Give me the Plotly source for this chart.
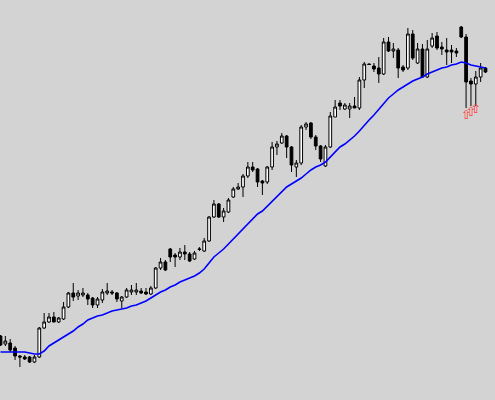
import plotly.graph_objects as go

opens = [64,56,57,52,44,43,43,38,43,72,
         78,83,78,81,93,107,104,105,105,102,
         95,100,107,108,107,99,103,108,108,109,
         108,106,112,132,138,151,145,143,148,146,
         141,150.5,149,159,183,196,183,188,203,211,
         213,224,233,231,219,218,233,253,257,264,
         253,233,237,273,277,263,254,234,253,283,
         297,291,291,294,292,320,336,334,332,326,
         358,349,350,333,332,366,337,351,323,354,
         364,353,350,350,349,373,363,319,316,323,
         332]
highs = [65,64,61,54,45,45,44,45,73,87,
         87,88,83,98,108,117,110,112,107,103,
         103,111,117,110,108,104,112,115,117,112,
         112,114,133,142,140,152,147,152,155,148,
         149,153,162,184,200,197,192,202,213,217,
         226,238,238,232,220,234,258,259,267,265,
         254,240,275,278,278,265,255,255,288,300,
         300,297,297,303,323,338,336.5,337,343,362,
         363,357,352,335,372,370,357,356,360,367,
         368,358,362,355,352,374,366,322,329,337,
         333]
lows = [54,54,48,40,33,40,37,37,42,71,
        77,78,77,80,92,99,100,103,95,92,
        92,97,105,105,98,92,102,105,105,106,
        105,105,111,130,129,138,133,140,140,138,
        140,149,148,158,182,182,178,187,202,210,
        203,222,228,213,205,216,230,245,256,242,
        228,223,235,270,261,250,238,233,252,283,
        290,290,282,292,290,312,335,328,317,325,
        348,342,322,328,330,340,336,322,322,352,
        350,345,335,337,343,362,292,294,294,318,
        327]
closes = [55,59,50,44,43,41,38,43,72,78,
          83,78,82,93,107,103,107,107,101,95,
          101,108,109,107,101,103,110,110,110,107,
          106,112,132,138,130,143,143,148,146,139,
          147,151,159,183,196,183,189,200,211,213,
          224,233,230,218,217,233,253,256,264,253,
          235,237,273,276,263,254,241,253,284,293,
          294,295,294,292,320,336,335.5,331,326,358,
          349,351,332,330,366,342,351,323,351,362,
          352,351,348,348,347,363,318,316,323,332,
          328]
ma = [48,48,48,48,48,48,47,46,46,49,
      54,57,60,63,66,69,73,76,80,82,
      84,85,87,89,90,91,92,94,95,97,
      99,102,105,108,110,113,115,118,120,122,
      124,127,131,137,143,147,151,156,161,166,
      172,177,182,186,189,194,199,203,208,213,
      216,219,222,226,230,233,235,238,243,248,
      253,256,260,264,269,275,280,285,291,297,
      302,306,310,313,316,319,321,323,326,328,
      330,332,333,335,336,338,337,335,334,333,
      332]
signal_idx = [96, 97, 98]
signal_val = [284.5, 287.5, 290.5]

idx = list(range(len(opens)))

fig = go.Figure()
fig.add_trace(go.Candlestick(
    x=idx, open=opens, high=highs, low=lows, close=closes,
    increasing=dict(line=dict(color="#000000", width=1), fillcolor="#ffffff"),
    decreasing=dict(line=dict(color="#000000", width=1), fillcolor="#000000"),
    whiskerwidth=0, showlegend=False, hoverinfo="skip"))
fig.add_trace(go.Scatter(
    x=idx, y=ma, mode="lines", line=dict(color="#0000ff", width=1.6),
    showlegend=False, hoverinfo="skip"))
fig.add_trace(go.Scatter(
    x=signal_idx, y=signal_val, mode="text", text=["⇧"] * len(signal_idx),
    textfont=dict(color="#ff3b3b", size=13, family="DejaVu Sans"),
    textposition="middle center", showlegend=False, hoverinfo="skip"))

fig.update_layout(
    width=495, height=400,
    margin=dict(l=0, r=0, t=0, b=0),
    paper_bgcolor="#d3d3d3", plot_bgcolor="#d3d3d3",
    boxgap=0.2,
    xaxis=dict(range=[-0.103, 101.96], visible=False, rangeslider=dict(visible=False), fixedrange=True),
    yaxis=dict(range=[0, 400], visible=False, fixedrange=True),
)
fig.write_html("out.html", config={"displayModeBar": False},
               post_script="document.body.style.margin='0';document.body.style.background='#d3d3d3';")
